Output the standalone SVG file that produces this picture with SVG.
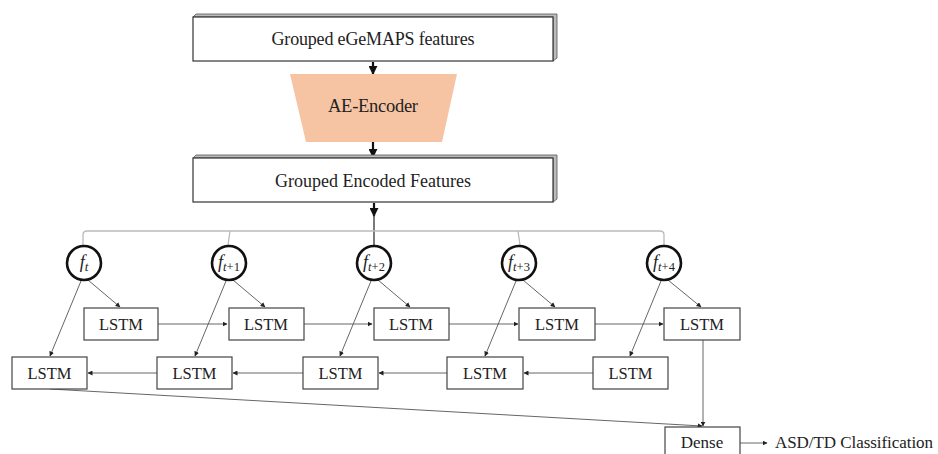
<svg xmlns="http://www.w3.org/2000/svg" width="938" height="454" viewBox="0 0 938 454">
<style>
.t{font-family:"Liberation Serif","DejaVu Serif",serif;fill:#222;text-anchor:middle}
.box{fill:#fff;stroke:#444;stroke-width:1.2}
.big{fill:#fff;stroke:#333;stroke-width:1.2}
.side{fill:#bbb;stroke:#555;stroke-width:0.8}
.c{fill:#fff;stroke:#111;stroke-width:2.6}
.ln{fill:none;stroke:#555;stroke-width:0.9}
.gl{fill:none;stroke:#bbb;stroke-width:1.3}
.bk{fill:none;stroke:#111;stroke-width:2.2}
</style>
<defs>
<marker id="a" viewBox="0 0 10 10" refX="9" refY="5" markerWidth="5" markerHeight="5" orient="auto" markerUnits="userSpaceOnUse"><path d="M0,0L10,5L0,10z" fill="#222"/></marker>
<marker id="ab" viewBox="0 0 10 10" refX="9" refY="5" markerWidth="9" markerHeight="9" orient="auto" markerUnits="userSpaceOnUse"><path d="M0,0L10,5L0,10z" fill="#111"/></marker>
</defs>

<g id="connectors">
<line class="bk" x1="373" y1="62" x2="373" y2="74" marker-end="url(#ab)"/>
<line class="bk" x1="373" y1="142" x2="373" y2="157" marker-end="url(#ab)"/>
<line class="bk" x1="374" y1="203" x2="374" y2="216" marker-end="url(#ab)"/>
<line x1="374" y1="214" x2="374" y2="246" stroke="#222" stroke-width="1.2"/>
<path class="gl" d="M83,245V235Q83,231 87,231H660Q664,231 664,235V245"/>
<line class="gl" x1="230" y1="231" x2="228" y2="245"/>
<line class="gl" x1="518" y1="231" x2="520" y2="245"/>
<line class="ln" x1="88" y1="280" x2="120" y2="307" marker-end="url(#a)"/>
<line class="ln" x1="81" y1="281" x2="50" y2="356" marker-end="url(#a)"/>
<line class="ln" x1="233" y1="280" x2="265" y2="307" marker-end="url(#a)"/>
<line class="ln" x1="226" y1="281" x2="195" y2="356" marker-end="url(#a)"/>
<line class="ln" x1="378" y1="280" x2="410" y2="307" marker-end="url(#a)"/>
<line class="ln" x1="371" y1="281" x2="340" y2="356" marker-end="url(#a)"/>
<line class="ln" x1="523" y1="280" x2="555" y2="307" marker-end="url(#a)"/>
<line class="ln" x1="516" y1="281" x2="485" y2="356" marker-end="url(#a)"/>
<line class="ln" x1="668" y1="280" x2="701" y2="307" marker-end="url(#a)"/>
<line class="ln" x1="661" y1="281" x2="630" y2="356" marker-end="url(#a)"/>
<line class="ln" x1="158" y1="324" x2="227" y2="324" marker-end="url(#a)"/>
<line class="ln" x1="304" y1="324" x2="372" y2="324" marker-end="url(#a)"/>
<line class="ln" x1="449" y1="324" x2="518" y2="324" marker-end="url(#a)"/>
<line class="ln" x1="595" y1="324" x2="663" y2="324" marker-end="url(#a)"/>
<line class="ln" x1="157" y1="373" x2="88" y2="373" marker-end="url(#a)"/>
<line class="ln" x1="303" y1="373" x2="233" y2="373" marker-end="url(#a)"/>
<line class="ln" x1="447" y1="373" x2="379" y2="373" marker-end="url(#a)"/>
<line class="ln" x1="593" y1="373" x2="524" y2="373" marker-end="url(#a)"/>
<line class="ln" x1="703" y1="340" x2="703" y2="426" marker-end="url(#a)"/>
<line class="ln" x1="50" y1="389" x2="702" y2="426" marker-end="url(#a)"/>
<line class="ln" x1="740" y1="443" x2="767" y2="443" marker-end="url(#a)"/>
</g>

<g id="n_egemaps">
<path class="side" d="M193,17L196,14H557V58L553,61V17Z"/>
<rect class="big" x="193" y="17" width="360" height="44"/>
<text class="t" x="373" y="45" font-size="18" textLength="203">Grouped eGeMAPS features</text>
</g>
<g id="n_encoder">
<path d="M290,74H457L442,142H306Z" fill="#F6C4A3"/>
<text class="t" x="373" y="112" font-size="18.5" textLength="90">AE-Encoder</text>
</g>
<g id="n_encoded">
<path class="side" d="M193,158L196,155H557V199L553,202V158Z"/>
<rect class="big" x="193" y="158" width="360" height="44"/>
<text class="t" x="373" y="187" font-size="18" textLength="196">Grouped Encoded Features</text>
</g>

<g id="f0"><circle class="c" cx="84" cy="263" r="17"/><text class="t" x="84" y="268" font-size="18"><tspan font-style="italic">f</tspan><tspan font-size="13" dy="3" font-style="italic">t</tspan></text></g>
<g id="f1"><circle class="c" cx="229" cy="263" r="17"/><text class="t" x="229" y="268" font-size="18"><tspan font-style="italic">f</tspan><tspan font-size="12.5" dy="3"><tspan font-style="italic">t</tspan>+1</tspan></text></g>
<g id="f2"><circle class="c" cx="374" cy="263" r="17"/><text class="t" x="374" y="268" font-size="18"><tspan font-style="italic">f</tspan><tspan font-size="12.5" dy="3"><tspan font-style="italic">t</tspan>+2</tspan></text></g>
<g id="f3"><circle class="c" cx="519" cy="263" r="17"/><text class="t" x="519" y="268" font-size="18"><tspan font-style="italic">f</tspan><tspan font-size="12.5" dy="3"><tspan font-style="italic">t</tspan>+3</tspan></text></g>
<g id="f4"><circle class="c" cx="664" cy="263" r="17"/><text class="t" x="664" y="268" font-size="18"><tspan font-style="italic">f</tspan><tspan font-size="12.5" dy="3"><tspan font-style="italic">t</tspan>+4</tspan></text></g>

<g id="lf0"><rect class="box" x="84" y="308" width="74" height="32"/><text class="t" x="121" y="330" font-size="16.5">LSTM</text></g>
<g id="lf1"><rect class="box" x="229" y="308" width="75" height="32"/><text class="t" x="266" y="330" font-size="16.5">LSTM</text></g>
<g id="lf2"><rect class="box" x="374" y="308" width="75" height="32"/><text class="t" x="411" y="330" font-size="16.5">LSTM</text></g>
<g id="lf3"><rect class="box" x="519" y="308" width="76" height="32"/><text class="t" x="557" y="330" font-size="16.5">LSTM</text></g>
<g id="lf4"><rect class="box" x="664" y="308" width="76" height="32"/><text class="t" x="702" y="330" font-size="16.5">LSTM</text></g>

<g id="lb0"><rect class="box" x="12" y="357" width="75" height="32"/><text class="t" x="49.5" y="379" font-size="16.5">LSTM</text></g>
<g id="lb1"><rect class="box" x="157" y="357" width="75" height="32"/><text class="t" x="194.5" y="379" font-size="16.5">LSTM</text></g>
<g id="lb2"><rect class="box" x="303" y="357" width="75" height="32"/><text class="t" x="340.5" y="379" font-size="16.5">LSTM</text></g>
<g id="lb3"><rect class="box" x="447" y="357" width="76" height="32"/><text class="t" x="485" y="379" font-size="16.5">LSTM</text></g>
<g id="lb4"><rect class="box" x="593" y="357" width="75" height="32"/><text class="t" x="630.5" y="379" font-size="16.5">LSTM</text></g>

<g id="dense"><rect class="box" x="665" y="427" width="75" height="40"/><text class="t" x="702" y="448" font-size="17">Dense</text></g>
<g id="out"><text class="t" x="775" y="448" font-size="17" textLength="158" style="text-anchor:start">ASD/TD Classification</text></g>
</svg>
